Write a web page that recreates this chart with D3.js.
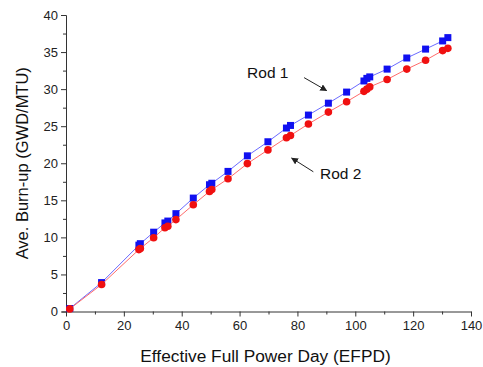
<!DOCTYPE html>
<html>
<head>
<meta charset="utf-8">
<script src="https://cdn.jsdelivr.net/npm/d3@7"></script>
<style>
  body { margin: 0; background: #fff; }
  svg { display: block; font-family: "Liberation Sans", Arial, sans-serif; }
</style>
</head>
<body>
<div id="chart"></div>
<script>
// Effective full power days (shared by both rods)
const efpd = [1.3, 12.3, 25.2, 25.7, 30.3, 34.2, 35.2, 38, 44, 49.6, 50.4, 56, 62.7, 69.8,
  76.2, 77.6, 83.8, 90.7, 97, 103, 104, 105, 111, 117.8, 124.3, 130.2, 132];
// Average burn-up, GWD/MTU
const rod1 = [0.4, 3.9, 8.95, 9.15, 10.7, 11.95, 12.2, 13.2, 15.3, 17.1, 17.3, 18.9, 21.0, 22.9,
  24.75, 25.1, 26.5, 28.1, 29.6, 31.1, 31.45, 31.65, 32.7, 34.2, 35.4, 36.5, 36.95];
const rod2 = [0.35, 3.65, 8.35, 8.5, 9.95, 11.3, 11.5, 12.4, 14.4, 16.2, 16.45, 17.9, 19.95, 21.8,
  23.45, 23.75, 25.3, 26.9, 28.3, 29.7, 30.0, 30.3, 31.3, 32.7, 33.9, 35.2, 35.5];
const xTicks = [0, 20, 40, 60, 80, 100, 120, 140];
const yTicks = [0, 5, 10, 15, 20, 25, 30, 35, 40];

const width = 483, height = 367;
const margin = {top: 15, right: 12, bottom: 55.5, left: 66};

const x = d3.scaleLinear().domain([0, 140]).range([margin.left, width - margin.right]);
const y = d3.scaleLinear().domain([0, 40]).range([height - margin.bottom, margin.top]);

const svg = d3.select("#chart").append("svg")
    .attr("width", width)
    .attr("height", height);

svg.append("defs").append("marker")
    .attr("id", "head")
    .attr("viewBox", "0 0 10 10")
    .attr("refX", 9).attr("refY", 5)
    .attr("markerWidth", 7).attr("markerHeight", 7)
    .attr("markerUnits", "userSpaceOnUse")
    .attr("orient", "auto")
  .append("path")
    .attr("d", "M0,0 L10,5 L0,10 z")
    .attr("fill", "#222");

// axes, with minor ticks in between the labelled ones
const xAxis = svg.append("g")
    .attr("transform", `translate(0,${y(0)})`)
    .call(d3.axisBottom(x).tickValues(d3.range(0, 141, 10)).tickSize(4)
      .tickFormat(d => xTicks.includes(d) ? d : ""));
xAxis.selectAll(".tick line").attr("y2", d => xTicks.includes(d) ? 5 : 3);

const yAxis = svg.append("g")
    .attr("transform", `translate(${x(0)},0)`)
    .call(d3.axisLeft(y).tickValues(d3.range(0, 40.1, 2.5)).tickSize(4)
      .tickFormat(d => yTicks.includes(d) ? d : ""));
yAxis.selectAll(".tick line").attr("x2", d => yTicks.includes(d) ? -5 : -3);

svg.selectAll(".domain").attr("stroke", "#333");
svg.selectAll(".tick line").attr("stroke", "#333");
svg.selectAll(".tick text")
    .attr("font-size", 13)
    .attr("fill", "#222")
    .attr("font-family", "Liberation Sans, Arial, sans-serif");
xAxis.selectAll(".tick text").attr("dy", "0.95em").attr("y", 6);
yAxis.selectAll(".tick text").attr("x", -8);

// series
const series = [
  {name: "Rod 1", values: rod1, line: "#6b6bff", fill: "#1010f0", shape: "square"},
  {name: "Rod 2", values: rod2, line: "#ff6b6b", fill: "#f01010", shape: "circle"}
];

const line = d3.line().x(d => x(d[0])).y(d => y(d[1]));

series.forEach(s => {
  const pts = efpd.map((e, i) => [e, s.values[i]]);
  svg.append("path")
      .datum(pts)
      .attr("fill", "none")
      .attr("stroke", s.line)
      .attr("stroke-width", 1)
      .attr("d", line);
  const g = svg.append("g").attr("fill", s.fill);
  if (s.shape === "square") {
    g.selectAll("rect").data(pts).join("rect")
        .attr("x", d => x(d[0]) - 3.5)
        .attr("y", d => y(d[1]) - 3.5)
        .attr("width", 7).attr("height", 7);
  } else {
    g.selectAll("circle").data(pts).join("circle")
        .attr("cx", d => x(d[0]))
        .attr("cy", d => y(d[1]))
        .attr("r", 3.8);
  }
});

// annotations (data units)
const notes = [
  {text: "Rod 1", tx: 62.6, ty: 31.5, from: [82.3, 31.55], to: [90.1, 29.8]},
  {text: "Rod 2", tx: 87.8, ty: 17.9, from: [85.5, 18.85], to: [78.0, 20.7]}
];
notes.forEach(n => {
  svg.append("text")
      .attr("x", x(n.tx)).attr("y", y(n.ty))
      .attr("font-size", 15.5)
      .attr("fill", "#111")
      .text(n.text);
  svg.append("line")
      .attr("x1", x(n.from[0])).attr("y1", y(n.from[1]))
      .attr("x2", x(n.to[0])).attr("y2", y(n.to[1]))
      .attr("stroke", "#222").attr("stroke-width", 1)
      .attr("marker-end", "url(#head)");
});

// axis titles
svg.append("text")
    .attr("x", (x(0) + x(140)) / 2 - 3)
    .attr("y", 362)
    .attr("text-anchor", "middle")
    .attr("font-size", 17.3)
    .attr("fill", "#111")
    .text("Effective Full Power Day (EFPD)");

svg.append("text")
    .attr("transform", `translate(28,${(y(0) + y(40)) / 2}) rotate(-90)`)
    .attr("text-anchor", "middle")
    .attr("font-size", 16.5)
    .attr("fill", "#111")
    .text("Ave. Burn-up (GWD/MTU)");
</script>
</body>
</html>
